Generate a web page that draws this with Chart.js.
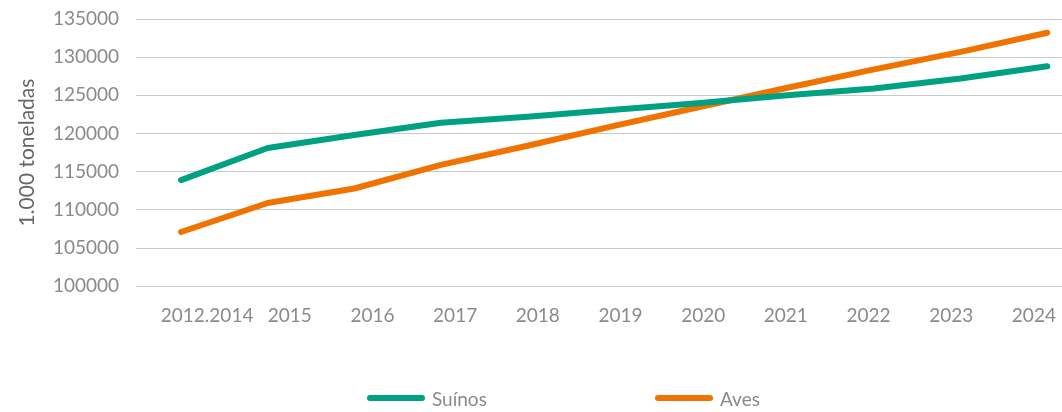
<!DOCTYPE html>
<html>
<head>
<meta charset="utf-8">
<script src="https://cdn.jsdelivr.net/npm/chart.js@4.4.1/dist/chart.umd.min.js"></script>
<style>
  html, body { margin: 0; padding: 0; background: #ffffff; }
  #wrap { position: relative; width: 1062px; height: 412px; }
  #legend { position: absolute; left: 0; top: 386px; width: 1062px; height: 24px; font-family: Lato, "Open Sans", sans-serif; font-size: 19px; color: #8a8a8a; }
  .item { position: absolute; top: 0; display: flex; align-items: center; height: 24px; }
  .swatch { width: 58px; height: 6px; border-radius: 3px; margin-right: 7px; }
</style>
</head>
<body>
<div id="wrap">
  <canvas id="c" width="1062" height="412"></canvas>
  <div id="legend"></div>
</div>
<script>
// ---- data ----
const categories = ["2012.2014", "2015", "2016", "2017", "2018", "2019", "2020", "2021", "2022", "2023", "2024"];
const suinos = [113900, 118100, 119800, 121400, 122200, 123100, 124000, 125000, 125900, 127200, 128800];
const aves   = [107100, 110900, 112800, 115900, 118400, 121000, 123500, 126000, 128400, 130700, 133200];
const yTicks = [100000, 105000, 110000, 115000, 120000, 125000, 130000, 135000];
const seriesNames = ["Suínos", "Aves"];
const seriesColors = ["#00a082", "#f07300"];
const yTitle = "1.000 toneladas";

const toPoints = (arr) => arr.map((v, i) => ({ x: i, y: v }));

const font = { family: "Lato, 'Open Sans', sans-serif", size: 19 };
const noSidePadding = (scale) => { scale.paddingLeft = 0; scale.paddingRight = 0; };

const chart = new Chart(document.getElementById('c'), {
  type: 'line',
  data: {
    datasets: [
      { label: seriesNames[0], data: toPoints(suinos), borderColor: seriesColors[0], backgroundColor: seriesColors[0],
        borderWidth: 6, pointRadius: 0, borderCapStyle: 'round', borderJoinStyle: 'round', tension: 0, xAxisID: 'x' },
      { label: seriesNames[1], data: toPoints(aves), borderColor: seriesColors[1], backgroundColor: seriesColors[1],
        borderWidth: 6, pointRadius: 0, borderCapStyle: 'round', borderJoinStyle: 'round', tension: 0, xAxisID: 'x' }
    ]
  },
  options: {
    responsive: false,
    animation: false,
    layout: { padding: { top: 19, right: 0, bottom: 67, left: 0 } },
    plugins: { legend: { display: false }, tooltip: { enabled: false } },
    scales: {
      x: {
        type: 'linear', display: false,
        min: -0.52, max: 10.17,
        afterFit: noSidePadding
      },
      xl: {
        type: 'linear', position: 'bottom',
        min: -0.86, max: 10.34,
        grid: { display: false, drawTicks: false },
        border: { display: false },
        afterBuildTicks: (scale) => { scale.ticks = categories.map((_, i) => ({ value: i })); },
        afterFit: noSidePadding,
        ticks: {
          autoSkip: false, maxRotation: 0, padding: 18,
          color: '#8a8a8a', font: font,
          callback: (v) => categories[v]
        }
      },
      y: {
        type: 'linear', min: yTicks[0], max: yTicks[yTicks.length - 1],
        afterBuildTicks: (scale) => { scale.ticks = yTicks.map(v => ({ value: v })); },
        afterFit: (scale) => { scale.width = 136; scale.paddingTop = 0; scale.paddingBottom = 0; },
        grid: { color: '#c8c8c8', lineWidth: 1, drawTicks: false },
        border: { display: false },
        ticks: { color: '#8a8a8a', font: font, padding: 17, callback: (v) => String(v) },
        title: { display: true, text: yTitle, color: '#666666',
                 font: { family: "Lato, 'Open Sans', sans-serif", size: 21 }, padding: { top: 15, bottom: 0 } }
      }
    }
  }
});

// HTML legend built from the datasets
const legendLefts = [367, 655];
const legend = document.getElementById('legend');
chart.data.datasets.forEach((ds, i) => {
  const item = document.createElement('div');
  item.className = 'item';
  item.style.left = legendLefts[i] + 'px';
  const sw = document.createElement('div');
  sw.className = 'swatch';
  sw.style.background = ds.borderColor;
  const tx = document.createElement('span');
  tx.textContent = ds.label;
  item.appendChild(sw); item.appendChild(tx);
  legend.appendChild(item);
});
</script>
</body>
</html>
